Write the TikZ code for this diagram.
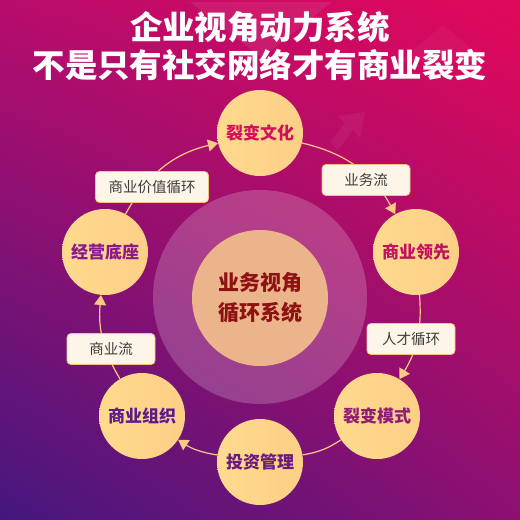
\documentclass[tikz,border=0pt]{standalone}
\usepackage{fontspec}
\newfontfamily\cjk{Noto Sans CJK SC}
\usepackage{xcolor}
\usetikzlibrary{calc}
\usetikzlibrary{arrows.meta}
\usetikzlibrary{shapes}
\usetikzlibrary{shadings}

\definecolor{bgtl}{HTML}{B80C6C}
\definecolor{bgtr}{HTML}{E2085A}
\definecolor{bgbl}{HTML}{44177E}
\definecolor{bgbr}{HTML}{8C1072}
\definecolor{petalA}{HTML}{FFDA8E}
\definecolor{petalB}{HTML}{FCCF86}
\definecolor{corefill}{HTML}{ECB48B}
\definecolor{coretext}{HTML}{8E1212}
\definecolor{tagfill}{HTML}{FDF6E8}
\definecolor{tagline}{HTML}{F2C27E}
\definecolor{taggray}{HTML}{3C3C3C}
\definecolor{flowline}{HTML}{F8CA84}
\definecolor{txtA}{HTML}{D2105A}
\definecolor{txtB}{HTML}{C0125E}
\definecolor{txtC}{HTML}{901A7A}
\definecolor{txtD}{HTML}{6A1A80}
\definecolor{txtE}{HTML}{5A1C8A}
\definecolor{txtF}{HTML}{8A1A8A}

\begin{document}
\begin{tikzpicture}
    [x=1pt, y=-1pt,
     planet/.style={circle, minimum size=86pt, inner sep=0pt, left color=petalA, right color=petalB, font=\cjk\bfseries\fontsize{17}{17}\selectfont},
     tag/.style={rectangle, rounded corners=4pt, draw=tagline, line width=0.8pt, fill=tagfill, minimum width=88pt, minimum height=31pt, inner xsep=13pt, text=taggray, font=\cjk\fontsize{14.5}{15}\selectfont},
     flow/.style={draw=flowline, line width=1.2pt},
     tip/.style={-{Triangle[width=12pt,length=10pt]}}]
    \useasboundingbox (0,0) rectangle (520,520);
    % background
    \shade[upper left=bgtl, upper right=bgtr, lower left=bgbl, lower right=bgbr] (0,0) rectangle (520,520);
    \fill[white, opacity=0.07] (190,2) -- (332,2) -- (262,58) -- cycle;
    \fill[white, opacity=0.04] (443,25) -- (488,62) -- (398,62) -- cycle;
    \fill[white, opacity=0.05] (365,112) -- (360,138) -- (353,130) -- (338,150) -- (330,142) -- (345,123) -- (338,116) -- cycle;
    % title
    \node (title) [font=\cjk\bfseries\fontsize{32.5}{38}\selectfont, text=white, align=center] at (260,46) {企业视角动力系统\\不是只有社交网络才有商业裂变};
    % center
    \node (halo) [circle, minimum size=214pt, fill=white, fill opacity=0.2] at (260,297) {};
    \node (core) [circle, minimum size=136pt, fill=corefill, text=coretext, align=center, font=\cjk\bfseries\fontsize{21}{30}\selectfont] at (260,298) {业务视角\\循环系统};
    % ring of circles
    \foreach \n/\x/\y/\c/\t in {culture/260/133/txtA/裂变文化,lead/416/252/txtB/商业领先,mode/377/416/txtC/裂变模式,invest/260/462/txtD/投资管理,org/142/416/txtE/商业组织,base/105/252/txtF/经营底座}{
        \node (\n) [planet, text=\c] at (\x,\y) {\t};
    }
    % connectors
    \draw[flow, tip] (base) to[bend left=24] (culture);
    \draw[flow, tip] (culture) to[bend left=24] (lead);
    \draw[flow, tip] (lead) to[bend left=18] (mode);
    \draw[flow] (mode) to[bend left=12] (invest);
    \draw[flow, tip] (invest) to[bend left=12] (org);
    \draw[flow, tip] (org) to[bend left=18] (base);
    % labels
    \foreach \n/\x/\y/\t in {valueloop/152/187/商业价值循环,bizflow/366/180/业务流,talentloop/411/339/人才循环,tradeflow/111/349/商业流}{
        \node (\n) [tag] at (\x,\y) {\t};
    }
\end{tikzpicture}
\end{document}
